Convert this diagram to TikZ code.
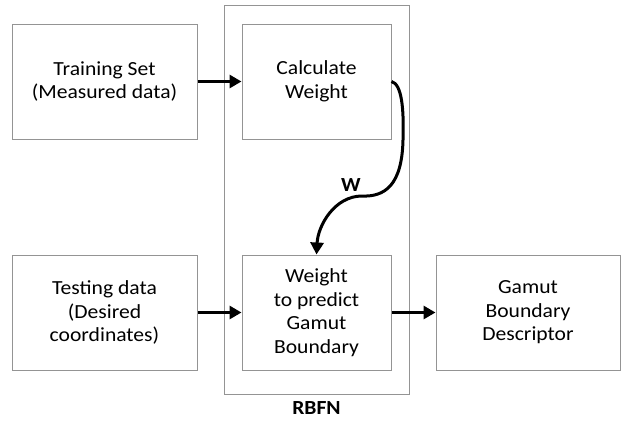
\documentclass[tikz,border=0pt]{standalone}
\usepackage{fontspec}
\setmainfont[FakeStretch=1.08]{Carlito}
\usetikzlibrary{arrows.meta}
\begin{document}
\begin{tikzpicture}[x=1pt,y=-1pt,
  box/.style={draw=black!42,line width=1pt,fill=white,minimum height=115pt,align=center,font=\fontsize{20}{23.5}\selectfont,inner sep=0pt},
  lbl/.style={font=\fontsize{20}{22}\selectfont\bfseries},
  arr/.style={line width=3pt,-{Triangle[length=12pt,width=13pt]}}]
\useasboundingbox (0,0) rectangle (621,421);
\node[draw=black!42,line width=1pt,minimum width=185pt,minimum height=389pt,inner sep=0pt] (rbfn) at (316.5,199.5) {};
\node[box,minimum width=185pt] (train) at (104.5,81.5) {Training Set\\(Measured data)};
\node[box,minimum width=149pt] (calc) at (316.5,81.5) {Calculate\\Weight};
\node[box,minimum width=185pt] (test) at (104.5,312.5) {Testing data\\(Desired\\coordinates)};
\node[box,minimum width=149pt] (weight) at (316.5,312.5) {Weight\\to predict\\Gamut\\Boundary};
\node[box,minimum width=184pt] (gamut) at (528,312.5) {Gamut\\Boundary\\Descriptor};
\node[lbl] (rlabel) at (316.5,408) {RBFN};
\node[lbl] (wlabel) at (351,185) {W};
\draw[arr] (train.east) -- (calc.west);
\draw[arr] (test.east) -- (weight.west);
\draw[arr] (weight.east) -- (gamut.west);
\draw[arr] (calc.east) .. controls (402,84) and (404,110) .. (403,140) .. controls (402,185) and (385,197) .. (362,196) .. controls (335,196) and (318,225) .. (weight.north);
\end{tikzpicture}
\end{document}
